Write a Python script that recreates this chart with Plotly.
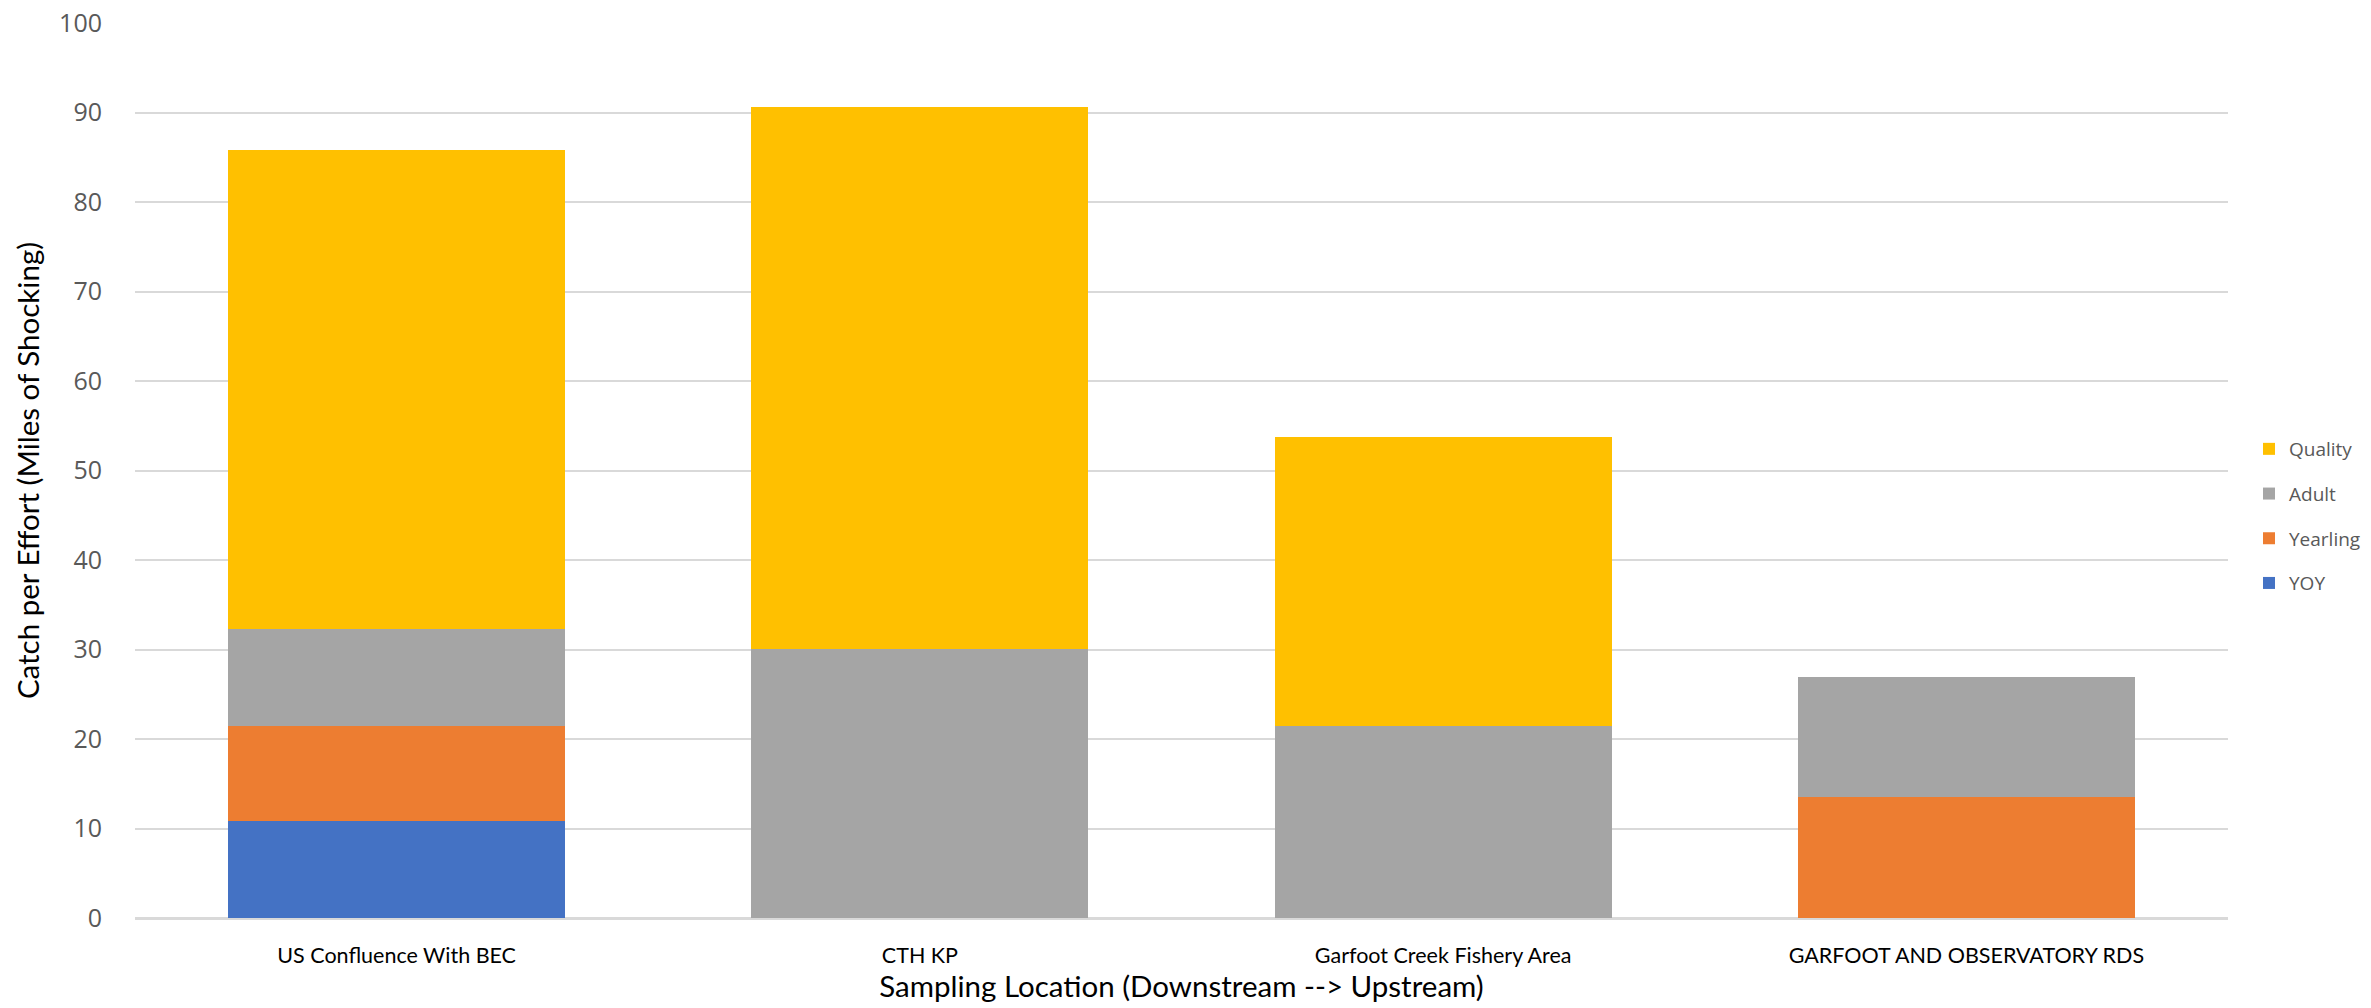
import plotly.graph_objects as go

locations = ["US Confluence With BEC", "CTH KP", "Garfoot Creek Fishery Area", "GARFOOT AND OBSERVATORY RDS"]
yoy = [10.8, 0, 0, 0]
yearling = [10.7, 0, 0, 13.5]
adult = [10.75, 30.1, 21.5, 13.4]
quality = [53.6, 60.5, 32.2, 0]

series = [
    ("YOY", yoy, "#4472C4"),
    ("Yearling", yearling, "#ED7D31"),
    ("Adult", adult, "#A5A5A5"),
    ("Quality", quality, "#FFC000"),
]

W, H = 2371, 1008
L, R, T, B = 134.5, 142.5, 22.7, 90

fig = go.Figure()
n = len(series)
for i, (name, vals, col) in enumerate(series):
    fig.add_trace(go.Bar(
        x=locations, y=vals, name=name, legendgroup=name,
        legendrank=1000 + (n - i),
        marker=dict(color=col, line=dict(width=0)),
    ))

fig.update_layout(
    width=W, height=H,
    barmode="stack", bargap=0.356,
    plot_bgcolor="white", paper_bgcolor="white",
    margin=dict(l=L, r=R, t=T, b=B, autoexpand=False),
    font=dict(family="Open Sans", color="#595959"),
    legend=dict(
        xref="container", yref="container",
        x=2249 / W, xanchor="left",
        y=1 - 516 / H, yanchor="middle",
        traceorder="grouped", tracegroupgap=17,
        font=dict(family="Open Sans", size=19, color="#595959"),
        bgcolor="rgba(0,0,0,0)",
    ),
    showlegend=True,
)

fig.update_yaxes(
    range=[0, 100], dtick=10, tick0=0,
    showgrid=True, gridcolor="#D9D9D9", gridwidth=2,
    zeroline=True, zerolinecolor="#D9D9D9", zerolinewidth=2,
    showline=False, ticks="", ticklabelstandoff=32,
    tickfont=dict(family="Open Sans", size=25, color="#595959"),
    title=dict(text="Catch per Effort (Miles of Shocking)", standoff=10,
               font=dict(family="Lato", size=29.5, color="#000000")),
    automargin=False,
)
fig.update_xaxes(
    showgrid=False, showline=True, linecolor="#D9D9D9", linewidth=2,
    ticks="", ticklabelstandoff=17,
    tickfont=dict(family="Lato", size=21.5, color="#000000"),
    title=dict(text="Sampling Location (Downstream --> Upstream)", standoff=10,
               font=dict(family="Lato", size=29.5, color="#000000")),
    automargin=False,
)

fig.write_html(
    "out.html",
    config={"displayModeBar": False},
    post_script="document.body.style.margin='0';document.body.style.overflow='hidden';",
)
